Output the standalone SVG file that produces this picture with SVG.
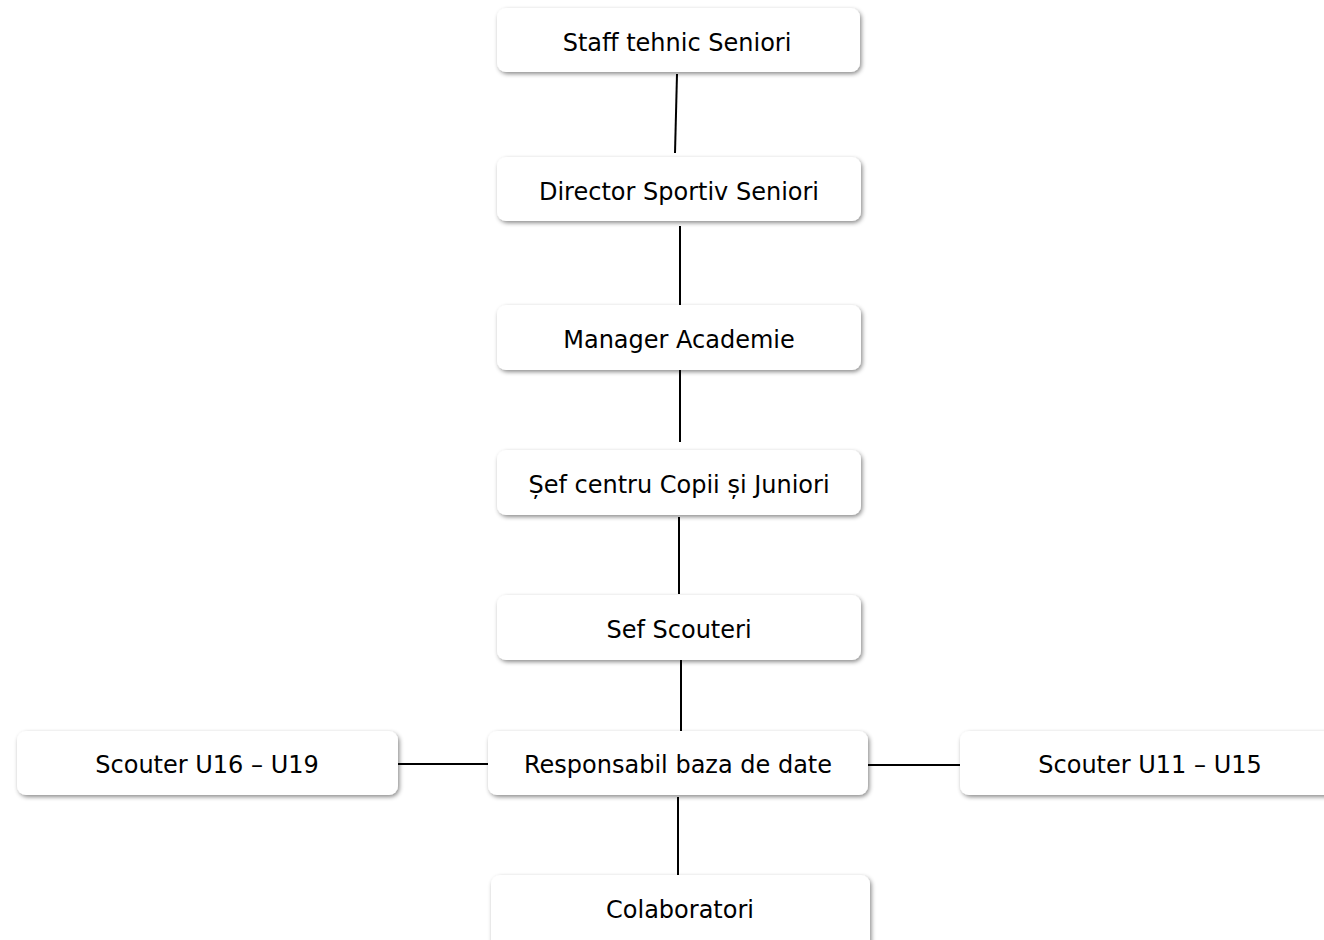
<svg xmlns="http://www.w3.org/2000/svg" width="1324" height="940" viewBox="0 0 1324 940">
<style>
.box{fill:#fff;filter:url(#sh)}
.t{font-family:"DejaVu Sans",sans-serif;font-size:24px;fill:#000;text-anchor:middle;dominant-baseline:central}
.c{stroke:#000;stroke-width:2;fill:none}
</style>
<defs>
<filter id="sh" x="-10%" y="-30%" width="120%" height="160%">
<feDropShadow dx="1.5" dy="2" stdDeviation="2.2" flood-color="#000" flood-opacity="0.45"/>
</filter>
</defs>
<rect width="1324" height="940" fill="#fff"/>
<g id="connectors">
<line class="c" x1="677" y1="74" x2="675" y2="153"/>
<line class="c" x1="680" y1="226" x2="680" y2="305"/>
<line class="c" x1="680" y1="365" x2="680" y2="442"/>
<line class="c" x1="679" y1="517" x2="679" y2="594"/>
<line class="c" x1="681" y1="660" x2="681" y2="731"/>
<line class="c" x1="678" y1="797" x2="678" y2="875"/>
<line class="c" x1="398" y1="764" x2="488" y2="764"/>
<line class="c" x1="868" y1="765" x2="960" y2="765"/>
</g>
<g id="n1"><rect class="box" x="497" y="8" width="363" height="64" rx="9"/><text class="t" x="677" y="42.5">Staff tehnic Seniori</text></g>
<g id="n2"><rect class="box" x="497" y="157" width="364" height="64" rx="9"/><text class="t" x="679" y="191.5">Director Sportiv Seniori</text></g>
<g id="n3"><rect class="box" x="497" y="305" width="364" height="65" rx="9"/><text class="t" x="679" y="339.5">Manager Academie</text></g>
<g id="n4"><rect class="box" x="497" y="450" width="364" height="65" rx="9"/><text class="t" x="679" y="484.5">Șef centru Copii și Juniori</text></g>
<g id="n5"><rect class="box" x="497" y="595" width="364" height="65" rx="9"/><text class="t" x="679" y="629.5">Sef Scouteri</text></g>
<g id="n6"><rect class="box" x="488" y="731" width="380" height="64" rx="9"/><text class="t" x="678" y="764.5">Responsabil baza de date</text></g>
<g id="n7"><rect class="box" x="17" y="731" width="381" height="64" rx="9"/><text class="t" x="207" y="764.5">Scouter U16 – U19</text></g>
<g id="n8"><rect class="box" x="960" y="731" width="380" height="64" rx="9"/><text class="t" x="1150" y="764.5">Scouter U11 – U15</text></g>
<g id="n9"><rect class="box" x="491" y="875" width="379" height="80" rx="9"/><text class="t" x="680" y="909.5">Colaboratori</text></g>
</svg>
